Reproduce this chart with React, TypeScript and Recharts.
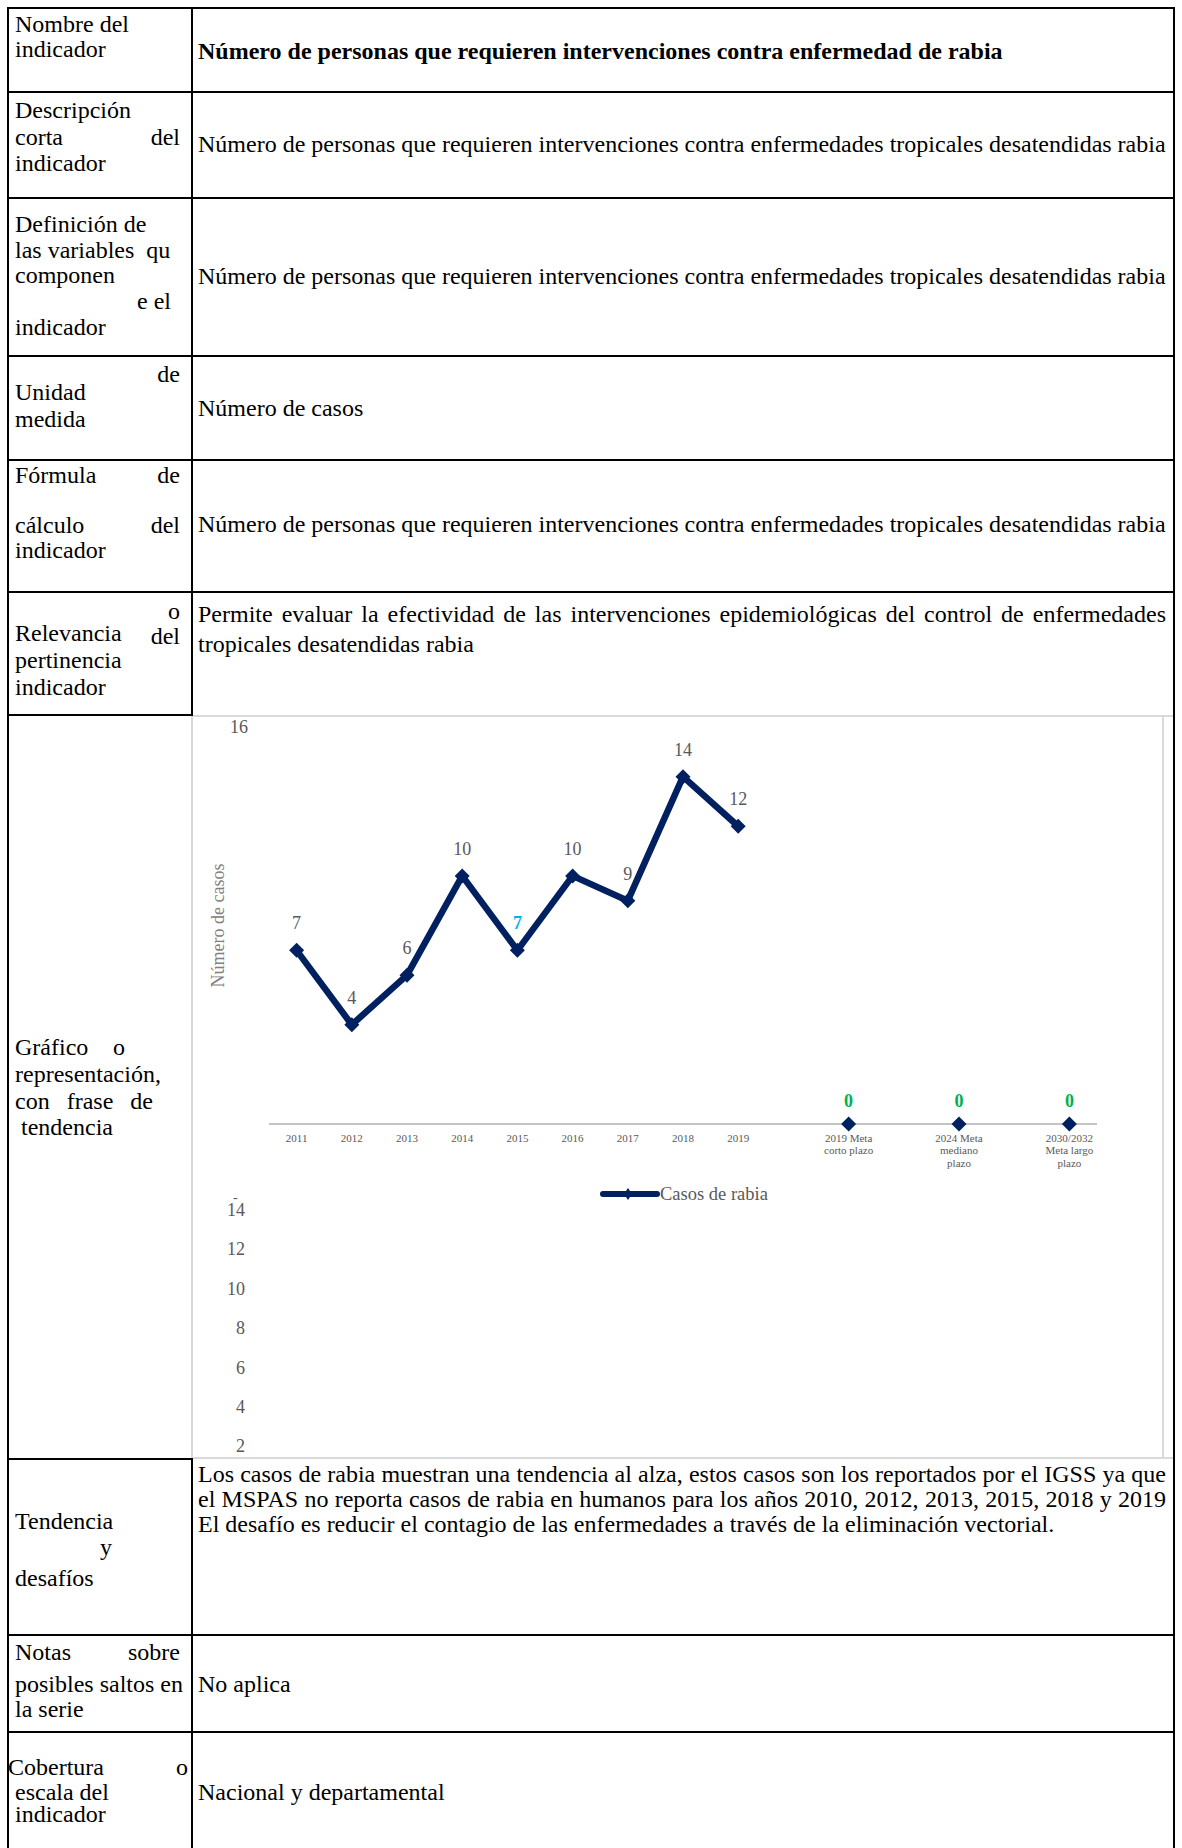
import React from 'react';
import { LineChart, Line, XAxis, YAxis, LabelList, Legend } from 'recharts';

const CATEGORIES = ['2011', '2012', '2013', '2014', '2015', '2016', '2017', '2018', '2019', '', '2019 Meta\ncorto plazo', '', '2024 Meta\nmediano\nplazo', '', '2030/2032\nMeta largo\nplazo'];
const CASES = [7, 4, 6, 10, 7, 10, 9, 14, 12, null, null, null, null, null, null];
const META = [null, null, null, null, null, null, null, null, null, null, 0, null, 0, null, 0];
const Y_TICKS = [16];
const STRAY_TICKS = ['14', '12', '10', '8', '6', '4', '2'];
const SERIES_NAME = 'Casos de rabia';
const Y_LABEL = 'Número de casos';
const HIGHLIGHT_INDEX = 4;

const SERIF = '"Liberation Serif", "Times New Roman", Times, serif';
const NAVY = '#002060';
const FS = 24;

const data = CATEGORIES.map((c, i) => ({ cat: c, cases: CASES[i], meta: META[i] }));

function HLine({ x1, x2, y, color = '#000', t = 2 }: any) {
  return <div style={{ position: 'absolute', left: x1, top: y - t / 2, width: x2 - x1, height: t, background: color }} />;
}
function VLine({ x, y1, y2, color = '#000', t = 2 }: any) {
  return <div style={{ position: 'absolute', left: x - t / 2, top: y1, width: t, height: y2 - y1, background: color }} />;
}
function T({ x, w = 400, base, align = 'left', bold = false, children }: any) {
  const style: any = {
    position: 'absolute', left: x, top: base - 22, width: w, fontFamily: SERIF, fontSize: FS,
    lineHeight: '28px', whiteSpace: 'nowrap', color: '#000', fontWeight: bold ? 'bold' : 'normal', textAlign: align,
  };
  if (align === 'justify') { style.textAlignLast = 'justify'; style.whiteSpace = 'normal'; }
  return <div style={style}>{children}</div>;
}

const CatTick = (props: any) => {
  const { x, y, payload } = props;
  const v = payload && payload.value ? String(payload.value) : '';
  if (!v) return <g />;
  const lines = v.split('\n');
  return (
    <text x={x} y={y + 18} textAnchor="middle" fontSize={11} fill="#595959" fontFamily={SERIF}>
      {lines.map((l, i) => <tspan key={i} x={x} dy={i === 0 ? 0 : 12.3}>{l}</tspan>)}
    </text>
  );
};

const diamondDot = (size: number) => (p: any) => {
  const { cx, cy, index, value } = p;
  if (cx == null || cy == null || value == null) return <g key={'d' + index} />;
  return <path key={'d' + index} d={`M${cx},${cy - size}L${cx + size},${cy}L${cx},${cy + size}L${cx - size},${cy}Z`} fill={NAVY} />;
};

const caseLabel = (p: any) => {
  const { x, y, value, index } = p;
  if (value == null) return null;
  const hi = index === HIGHLIGHT_INDEX;
  return (
    <text x={x} y={y - 21} textAnchor="middle" fontSize={18} fontFamily={SERIF} fontWeight={hi ? 'bold' : 'normal'} fill={hi ? '#00B0F0' : '#595959'}>{value}</text>
  );
};
const metaLabel = (p: any) => {
  const { x, y, value } = p;
  if (value == null) return null;
  return <text x={x} y={y - 17} textAnchor="middle" fontSize={18} fontFamily={SERIF} fontWeight="bold" fill="#00B050">{value}</text>;
};

const LegendContent = () => (
  <div style={{ display: 'flex', alignItems: 'center', height: 24 }}>
    <svg width={60} height={24}>
      <line x1={3} y1={12} x2={57} y2={12} stroke={NAVY} strokeWidth={6} strokeLinecap="round" />
      <path d="M28,6L32,12L28,18L24,12Z" fill={NAVY} />
    </svg>
    <span style={{ fontFamily: SERIF, fontSize: 18.5, color: '#595959', marginLeft: 0 }}>{SERIES_NAME}</span>
  </div>
);

function Chart() {
  return (
    <div style={{ position: 'absolute', left: 194, top: 718 }}>
      <LineChart width={968} height={739} data={data} margin={{ top: 9, right: 65, bottom: 293, left: 0 }}>
        <XAxis dataKey="cat" interval={0} tickLine={false} tickSize={0} tickMargin={0} height={40}
          padding={{ left: 27.6, right: 27.6 }}
          axisLine={{ stroke: '#C4C4C4', strokeWidth: 2 }} tick={<CatTick />} />
        <YAxis domain={[0, 16]} ticks={Y_TICKS} interval={0} axisLine={false} tickLine={false} width={75} tickMargin={15}
          tick={{ fontSize: 18, fill: '#595959', fontFamily: SERIF }}
          label={{ value: Y_LABEL, angle: -90, position: 'center', dx: -14, style: { fontSize: 18, fill: '#808080', fontFamily: SERIF } }} />
        <Line dataKey="cases" stroke={NAVY} strokeWidth={6.5} strokeLinejoin="round" dot={diamondDot(7.5)} activeDot={false}
          isAnimationActive={false} legendType="none">
          <LabelList dataKey="cases" content={caseLabel} />
        </Line>
        <Line dataKey="meta" stroke="none" strokeWidth={0} dot={diamondDot(7.5)} activeDot={false}
          isAnimationActive={false} legendType="none">
          <LabelList dataKey="meta" content={metaLabel} />
        </Line>
        <Legend layout="horizontal" verticalAlign="middle" align="center" content={<LegendContent />}
          wrapperStyle={{ left: 406, top: 464, width: 260, height: 24 }} />
      </LineChart>
    </div>
  );
}

export default function App() {
  const L = 8, R = 1174, C = 192;
  const RX = 198, RW = 968;
  const LX = 15, LW = 165;
  return (
    <div style={{ position: 'absolute', left: 0, top: 0, width: 1182, height: 1848, background: '#fff', overflow: 'hidden' }}>
      {/* chart box */}
      <HLine x1={191} x2={1173} y={716} color="#D9D9D9" />
      <HLine x1={191} x2={1173} y={1458} color="#D9D9D9" />
      <VLine x={192} y1={716} y2={1458} color="#D9D9D9" />
      <VLine x={1163} y1={716} y2={1458} color="#D9D9D9" />
      <Chart />
      {STRAY_TICKS.map((t, i) => (
        <div key={t} style={{ position: 'absolute', left: 205, width: 40, top: 1210 + i * 39.4 - 10, textAlign: 'right', fontFamily: SERIF, fontSize: 18, lineHeight: '20px', color: '#595959' }}>{t}</div>
      ))}
      <div style={{ position: 'absolute', left: 233, top: 1191, fontFamily: SERIF, fontSize: 14, lineHeight: '14px', color: '#595959' }}>-</div>

      {/* table lines */}
      <HLine x1={L - 1} x2={R + 1} y={8} />
      <VLine x={L} y1={8} y2={1848} />
      <VLine x={R} y1={8} y2={1848} />
      <VLine x={C} y1={8} y2={716} />
      <VLine x={C} y1={1458} y2={1848} />
      {[92, 198, 356, 460, 592, 1635, 1732].map((y) => <HLine key={y} x1={L} x2={R} y={y} />)}
      <HLine x1={L} x2={C} y={715} />
      <HLine x1={L} x2={C} y={1459} />

      {/* row 1 */}
      <T x={LX} base={32}>Nombre del</T>
      <T x={LX} base={57}>indicador</T>
      <T x={RX} base={59} bold>Número de personas que requieren intervenciones contra enfermedad de rabia</T>
      {/* row 2 */}
      <T x={LX} base={118}>Descripción</T>
      <T x={LX} w={LW} base={145} align="justify">corta del</T>
      <T x={LX} base={171}>indicador</T>
      <T x={RX} base={152}>Número de personas que requieren intervenciones contra enfermedades tropicales desatendidas rabia</T>
      {/* row 3 */}
      <T x={LX} base={232}>Definición de</T>
      <T x={LX} base={258}>las variables&nbsp; qu</T>
      <T x={LX} base={283}>componen</T>
      <T x={137} base={309}>e el</T>
      <T x={LX} base={335}>indicador</T>
      <T x={RX} base={284}>Número de personas que requieren intervenciones contra enfermedades tropicales desatendidas rabia</T>
      {/* row 4 */}
      <T x={LX} w={LW} base={382} align="right">de</T>
      <T x={LX} base={400}>Unidad</T>
      <T x={LX} base={427}>medida</T>
      <T x={RX} base={416}>Número de casos</T>
      {/* row 5 */}
      <T x={LX} w={LW} base={483} align="justify">Fórmula de</T>
      <T x={LX} w={LW} base={533} align="justify">cálculo del</T>
      <T x={LX} base={558}>indicador</T>
      <T x={RX} base={532}>Número de personas que requieren intervenciones contra enfermedades tropicales desatendidas rabia</T>
      {/* row 6 */}
      <T x={LX} w={LW} base={619} align="right">o</T>
      <T x={LX} base={641}>Relevancia</T>
      <T x={LX} w={LW} base={644} align="right">del</T>
      <T x={LX} base={668}>pertinencia</T>
      <T x={LX} base={695}>indicador</T>
      <T x={RX} w={RW} base={622} align="justify">Permite evaluar la efectividad de las intervenciones epidemiológicas del control de enfermedades</T>
      <T x={RX} base={652}>tropicales desatendidas rabia</T>
      {/* row 7 */}
      <T x={LX} w={110} base={1055} align="justify">Gráfico o</T>
      <T x={LX} base={1082}>representación,</T>
      <T x={LX} w={138} base={1109} align="justify">con frase de</T>
      <T x={21} base={1135}>tendencia</T>
      {/* row 8 */}
      <T x={LX} base={1529}>Tendencia</T>
      <T x={100} base={1555}>y</T>
      <T x={LX} base={1586}>desafíos</T>
      <T x={RX} w={RW} base={1482} align="justify">Los casos de rabia muestran una tendencia al alza, estos casos son los reportados por el IGSS ya que</T>
      <T x={RX} w={RW} base={1507} align="justify">el MSPAS no reporta casos de rabia en humanos para los años 2010, 2012, 2013, 2015, 2018 y 2019</T>
      <T x={RX} base={1532}>El desafío es reducir el contagio de las enfermedades a través de la eliminación vectorial.</T>
      {/* row 9 */}
      <T x={LX} w={LW} base={1660} align="justify">Notas sobre</T>
      <T x={LX} base={1692}>posibles saltos en</T>
      <T x={LX} base={1717}>la serie</T>
      <T x={RX} base={1692}>No aplica</T>
      {/* row 10 */}
      <T x={8} w={180} base={1775} align="justify">Cobertura o</T>
      <T x={LX} base={1800}>escala del</T>
      <T x={LX} base={1822}>indicador</T>
      <T x={RX} base={1800}>Nacional y departamental</T>
    </div>
  );
}
